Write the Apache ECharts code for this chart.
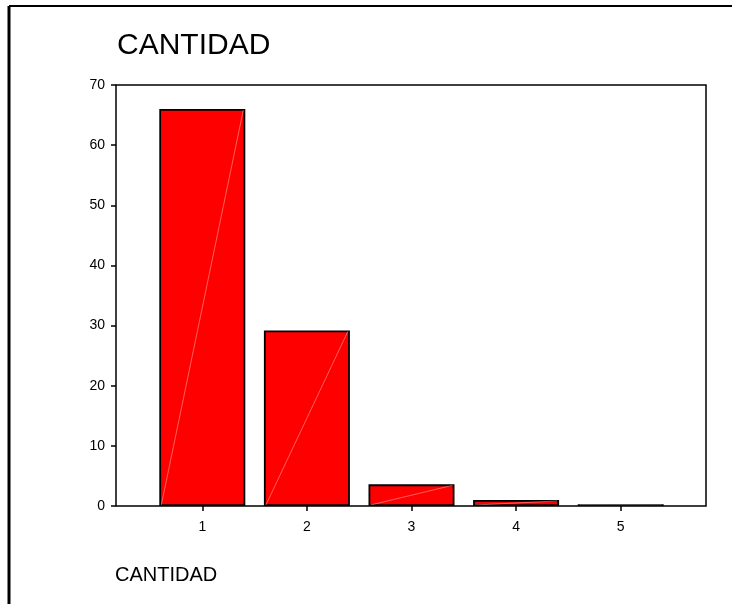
<!DOCTYPE html>
<html>
<head>
<meta charset="utf-8">
<script src="https://cdn.jsdelivr.net/npm/echarts@6/dist/echarts.min.js"></script>
<style>html,body{margin:0;padding:0;background:#fff;}#c{width:732px;height:604px;}</style>
</head>
<body>
<div id="c"></div>
<script>
const categories = ['1', '2', '3', '4', '5'];
const values = [66.0, 29.2, 3.6, 1.0, 0.3];
const yTicks = [0, 10, 20, 30, 40, 50, 60, 70];
const titleText = 'CANTIDAD';
const xAxisTitle = 'CANTIDAD';

const chart = echarts.init(document.getElementById('c'), null, {renderer: 'canvas'});
const tickFont = {fontFamily: 'Liberation Sans', fontSize: 14, color: '#000'};

chart.setOption({
  animation: false,
  backgroundColor: '#fff',
  grid: [
    {left: 150, width: 523, top: 85, height: 421},
    {left: 116, width: 590, top: 85, height: 421, show: true, borderColor: '#000', borderWidth: 1.5, backgroundColor: 'transparent', z: 5}
  ],
  xAxis: [
    {type: 'category', gridIndex: 0, data: categories,
     axisLine: {show: false},
     axisTick: {show: true, alignWithLabel: true, length: 5, lineStyle: {color: '#000', width: 1.5}},
     axisLabel: Object.assign({margin: 14}, tickFont)},
    {type: 'value', gridIndex: 1, show: false, min: 0, max: 1}
  ],
  yAxis: [
    {type: 'value', gridIndex: 0, min: yTicks[0], max: yTicks[yTicks.length - 1], interval: 10, offset: 34,
     axisLine: {show: false},
     axisTick: {show: true, length: 5, lineStyle: {color: '#000', width: 1.5}},
     splitLine: {show: false},
     axisLabel: Object.assign({margin: 11}, tickFont)},
    {type: 'value', gridIndex: 1, show: false, min: 0, max: 1}
  ],
  series: [
    {type: 'bar', xAxisIndex: 0, yAxisIndex: 0, data: values, barWidth: 86,
     itemStyle: {color: '#ff0000', borderColor: '#000', borderWidth: 1.8}, z: 2},
    {type: 'custom', xAxisIndex: 0, yAxisIndex: 0, data: values.map((v, i) => [i, v]), z: 3,
     renderItem: function (params, api) {
       const p0 = api.coord([api.value(0), 0]);
       const p1 = api.coord([api.value(0), api.value(1)]);
       const hw = 41;
       return {type: 'line', shape: {x1: p0[0] - hw, y1: p0[1] - 1, x2: p1[0] + hw, y2: p1[1] + 1},
               style: {stroke: 'rgba(255,225,225,0.7)', lineWidth: 0.6}, silent: true};
     }}
  ],
  graphic: [
    {type: 'line', shape: {x1: 9, y1: 6, x2: 732, y2: 6}, style: {stroke: '#000', lineWidth: 2}},
    {type: 'line', shape: {x1: 9, y1: 6, x2: 9, y2: 604}, style: {stroke: '#000', lineWidth: 3}},
    {type: 'text', x: 117, y: 61, style: {text: titleText, font: '30px "Liberation Sans"', fill: '#000', verticalAlign: 'bottom'}},
    {type: 'text', x: 115, y: 585, style: {text: xAxisTitle, font: '20px "Liberation Sans"', fill: '#000', verticalAlign: 'bottom'}}
  ]
});
</script>
</body>
</html>
